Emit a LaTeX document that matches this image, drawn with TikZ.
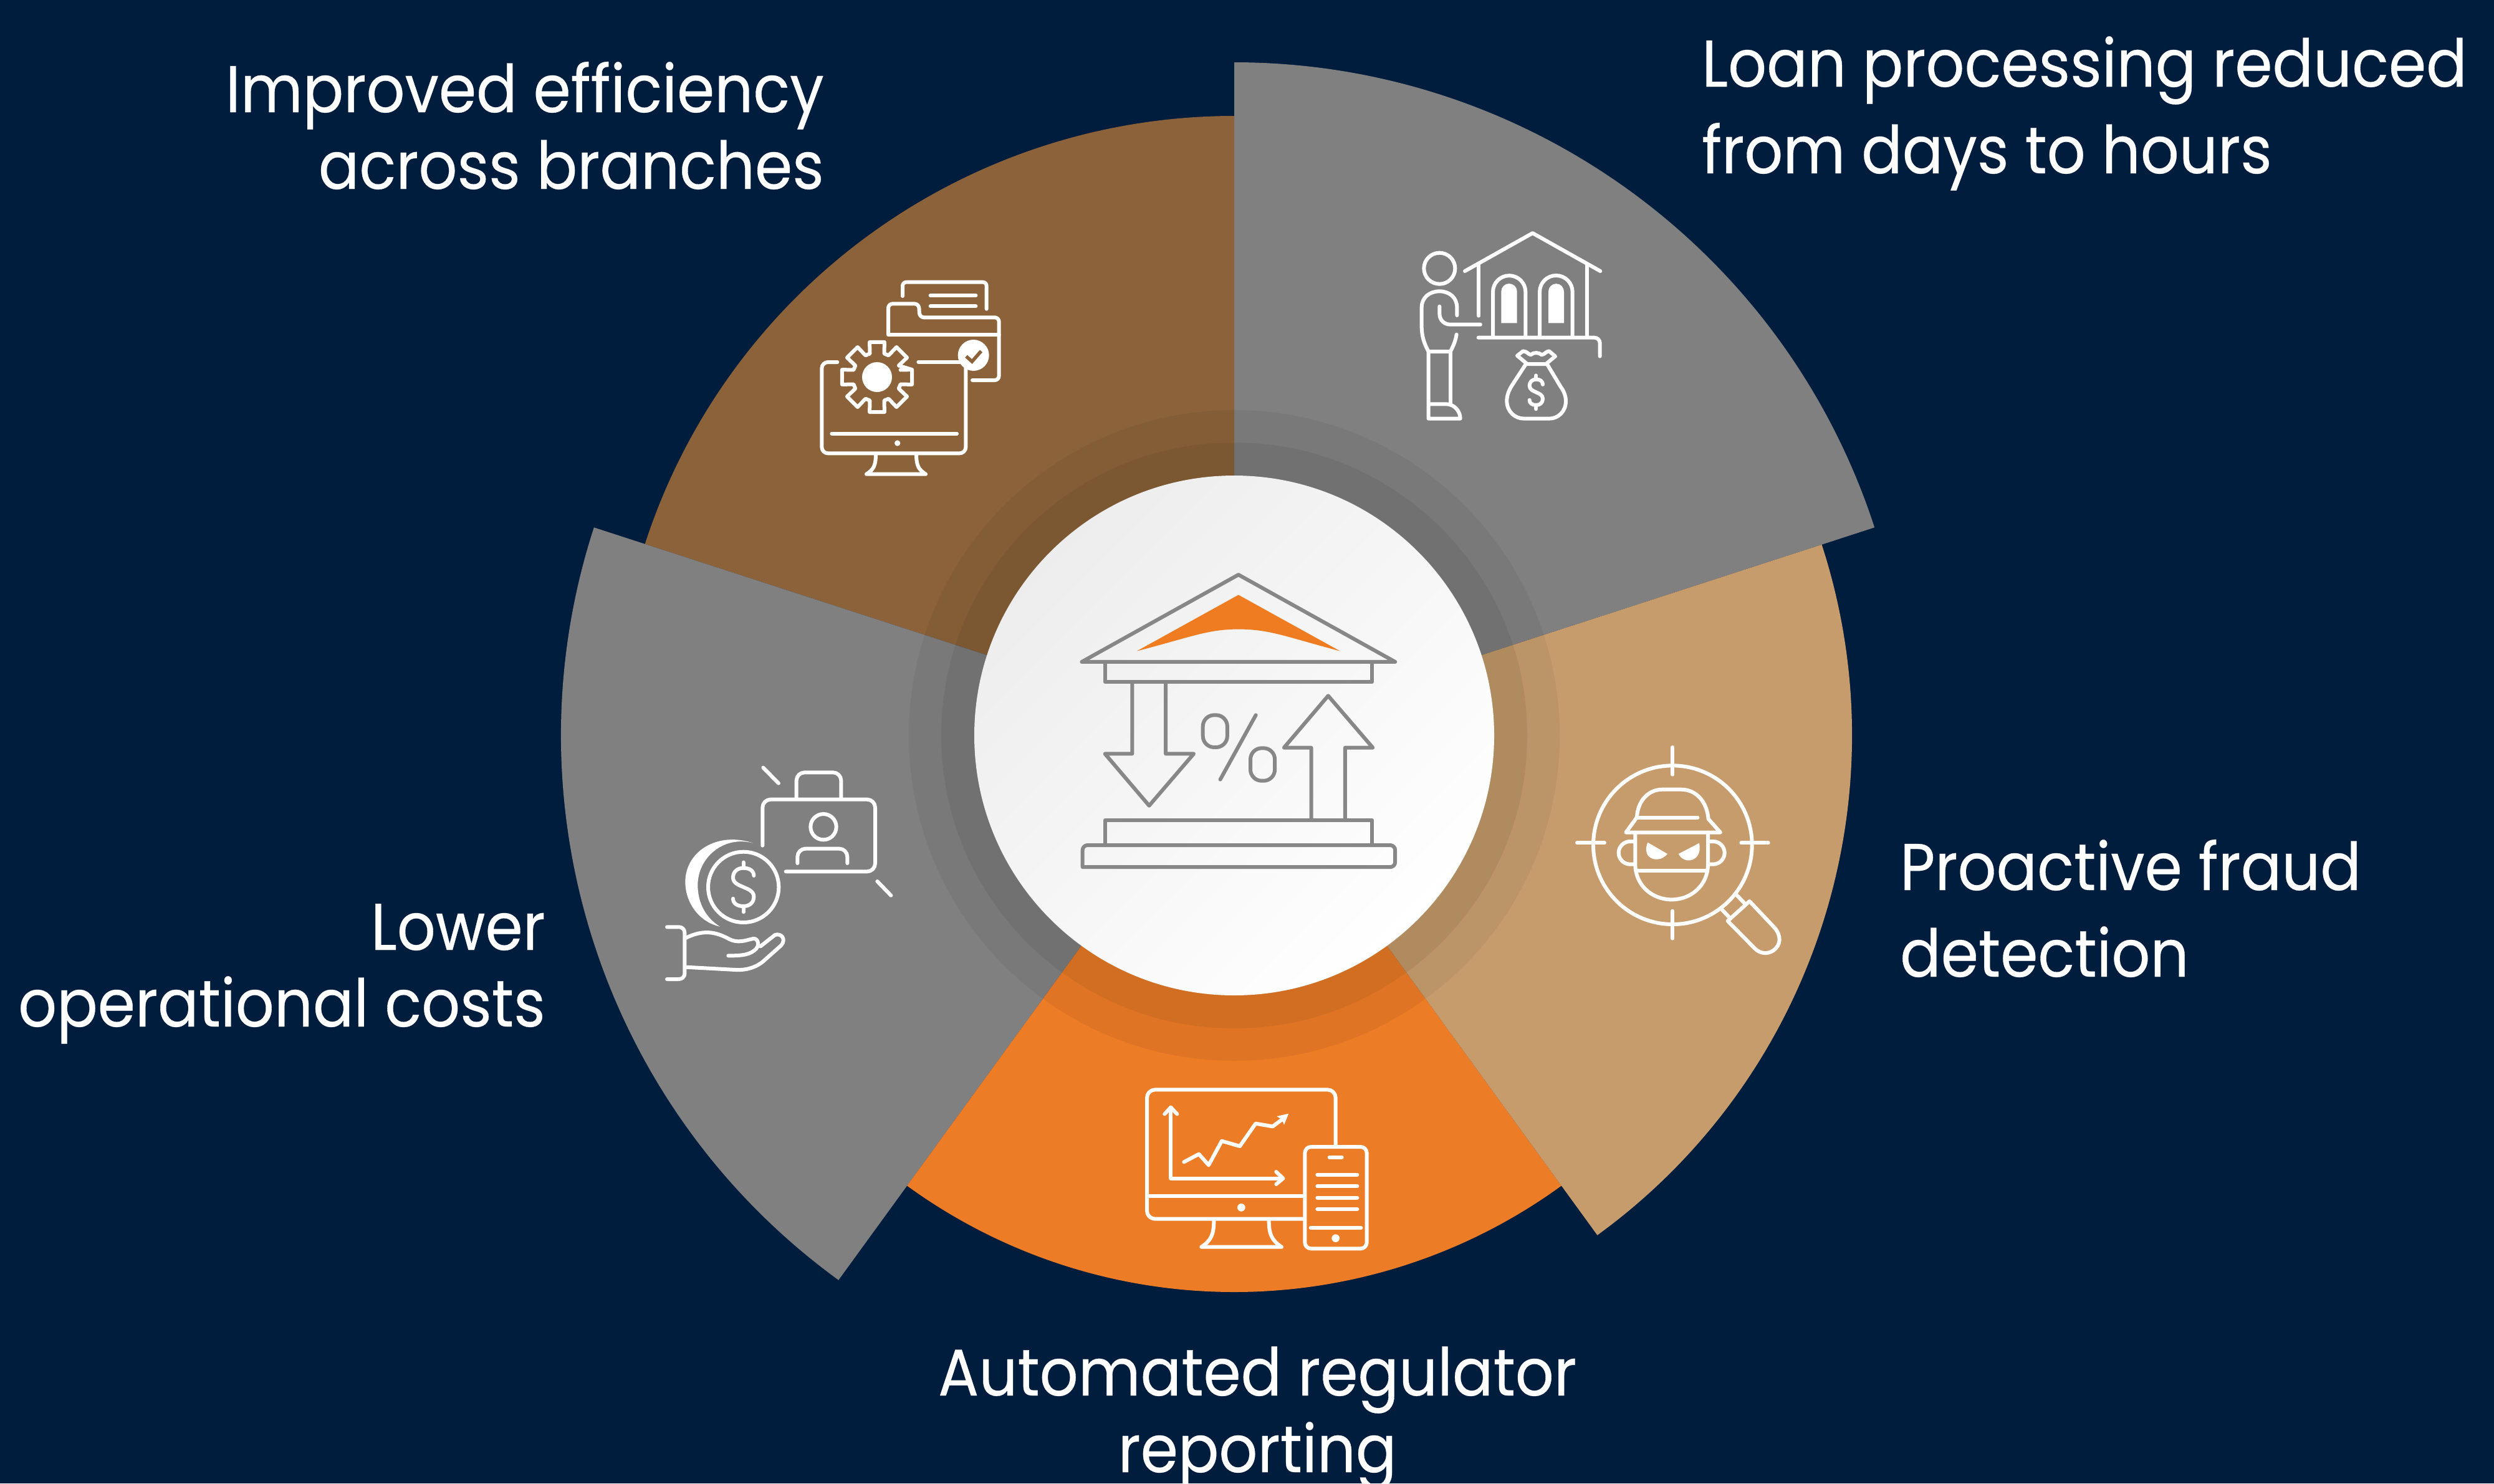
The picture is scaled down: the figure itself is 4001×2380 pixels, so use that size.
\documentclass[tikz,border=0pt]{standalone}
\usepackage{fontspec}
\setmainfont{Poppins}
\newfontfamily\lblfont[FakeStretch=0.915,FakeBold=0.3]{Poppins}
\definecolor{navy}{HTML}{001D3D}
\definecolor{segbrown}{HTML}{8B6239}
\definecolor{seggrey}{HTML}{808080}
\definecolor{segtan}{HTML}{C69C6D}
\definecolor{segorange}{HTML}{EC7C26}
\definecolor{icongrey}{HTML}{878787}
\definecolor{iconorange}{HTML}{F07C22}
\tikzset{
  ico/.style={draw=white,line width=6pt,line cap=round,line join=round},
  icofill/.style={fill=white,draw=none},
  bank/.style={draw=icongrey,line width=6pt,line cap=round,line join=round},
  bigtext/.style={text=white,inner sep=0pt,font=\lblfont\fontsize{106}{139}\selectfont},
  smalltext/.style={text=white,inner sep=0pt,font=\lblfont\fontsize{106}{123}\selectfont},
}
\newcommand{\sectorfill}[4]{\fill[#1] (0,0) -- (#2:#4) arc[start angle=#2,end angle=#3,radius=#4] -- cycle;}
\newcommand{\dollaricon}[4]{%
  \begin{scope}[shift={(#1,#2)},xscale=#3,yscale=#4]
    \draw[ico] (1,-.6) .. controls (1,-.85) and (.6,-1) .. (0,-1) .. controls (-.6,-1) and (-1,-.8) .. (-1,-.5) .. controls (-1,-.2) and (-.4,-.1) .. (0,0) .. controls (.4,.1) and (1,.2) .. (1,.5) .. controls (1,.8) and (.6,1) .. (0,1) .. controls (-.6,1) and (-1,.85) .. (-1,.6);
    \draw[ico] (0,-1) -- (0,-1.3) (0,1) -- (0,1.3);
  \end{scope}}
\begin{document}
\begin{tikzpicture}[x=1pt,y=-1pt]
\clip (0,0) rectangle (4001,2380);
\fill[navy] (0,0) rectangle (4001,2380);
% sectors
\begin{scope}[shift={(1980,1180)},y=1pt]
  \sectorfill{seggrey}{18}{90}{1080}
  \sectorfill{segbrown}{90}{162}{994}
  \sectorfill{seggrey}{162}{234}{1080}
  \sectorfill{segorange}{234}{306}{893}
  \sectorfill{segtan}{306}{378}{991}
\end{scope}
% rings and hub
\fill[black,opacity=.05] (1980,1180) circle (522);
\fill[black,opacity=.06] (1980,1180) circle (470);
\shade[top color=white!93!black,bottom color=white,shading angle=45] (1980,1180) circle (417);

% bank icon
\begin{scope}[shift={(1480,650)},xscale=0.6633,yscale=0.6888]
  \draw[bank] (385,598) -- (764,395) -- (1143,598) -- cycle;
  \fill[iconorange] (518,573) -- (764,442) -- (1010,573) .. controls (880,540) and (840,522) .. (764,522) .. controls (690,522) and (650,540) .. (518,573) -- cycle;
  \draw[bank] (441,600) -- (441,645) -- (1087,645) -- (1087,600);
  \draw[bank] (507,645) -- (507,812) -- (441,812) -- (548,933) -- (656,812) -- (588,812) -- (588,645);
  \draw[bank] (940,965) -- (940,798) -- (874,798) -- (981,677) -- (1089,798) -- (1022,798) -- (1022,965);
  \draw[bank] (441,1025) -- (441,967) -- (1087,967) -- (1087,1025);
  \draw[bank,rounded corners=8pt] (387,1076) -- (387,1025) -- (1143,1025) -- (1143,1076) [sharp corners] -- cycle;
  \draw[bank,rounded corners=18pt] (678,722) rectangle (737,797);
  \draw[bank] (806,722) -- (720,872);
  \draw[bank,rounded corners=18pt] (793,799) rectangle (852,875);
\end{scope}

% icon: loan
\begin{scope}[shift={(2230,360)},scale=1/3]
  \draw[ico] (360,225) -- (686,42) -- (1012,225);
  \draw[ico] (427,195) -- (427,440);
  \draw[ico] (947,195) -- (947,540);
  \draw[ico,rounded corners=9pt] (425,545) -- (1010,545) -- (1010,635);
  \draw[ico] (495,540) -- (495,325) arc[start angle=180,end angle=360,radius=78.5] -- (652,540);
  \draw[ico] (720,540) -- (720,325) arc[start angle=180,end angle=360,radius=79] -- (878,540);
  \fill[white] (535,475) -- (535,323) arc[start angle=180,end angle=360,radius=38] -- (611,475) -- cycle;
  \fill[white] (762,475) -- (762,323) arc[start angle=180,end angle=360,radius=37.5] -- (837,475) -- cycle;
  \draw[ico] (238,212) circle (75);
  \draw[ico] (322,438) -- (322,400) .. controls (322,352) and (285,322) .. (238,322) .. controls (190,322) and (152,352) .. (152,400) -- (152,490) .. controls (152,540) and (165,575) .. (185,612) -- (290,612) .. controls (305,585) and (315,560) .. (320,530);
  \draw[ico] (185,612) -- (185,935) -- (338,935) .. controls (338,900) and (310,865) .. (270,865) -- (185,865);
  \draw[ico] (290,612) -- (290,865);
  \draw[ico] (238,395) -- (238,430) .. controls (238,460) and (260,482) .. (290,482) -- (435,482);
  % bag
  \draw[ico] (660,672) -- (612,632) -- (640,610) .. controls (660,612) and (665,625) .. (677,628) .. controls (690,615) and (715,615) .. (730,628) .. controls (745,625) and (750,612) .. (765,610) -- (795,635) -- (750,672) -- cycle;
  \draw[ico] (652,675) -- (590,770) .. controls (570,800) and (562,825) .. (562,850) .. controls (562,900) and (600,935) .. (645,935) -- (765,935) .. controls (810,935) and (846,900) .. (846,850) .. controls (846,825) and (835,800) .. (820,780) -- (757,675);
  \dollaricon{703}{808}{32}{62}
\end{scope}

% icon: efficiency
\begin{scope}[shift={(1290,430)},scale=1/3]
  \draw[ico,rounded corners=6pt] (474,135) -- (474,68) -- (878,68) -- (878,197);
  \draw[ico] (608,132) -- (826,132) (608,184) -- (826,184);
  \draw[ico,rounded corners=7pt] (405,320) -- (405,172) -- (552,172) -- (556,238) -- (938,238) -- (938,540) -- (810,540);
  \draw[ico] (405,320) -- (938,320);
  \fill[white] (815,420) circle (75);
  \draw[segbrown,line width=5.5pt,line join=miter] (780,425) -- (808,450) -- (852,400);
  \draw[ico,rounded corners=10pt] (160,453) -- (85,453) -- (85,892) -- (778,892) -- (778,470);
  \draw[ico] (550,453) -- (750,453);
  \draw[ico] (133,797) -- (735,797);
  \fill[white] (449,843) circle (14);
  \draw[ico] (345,895) .. controls (345,950) and (335,970) .. (300,992) -- (585,992) .. controls (550,970) and (540,950) .. (540,895);
  \begin{scope}[shift={(351,525)}]
    \fill[white] (0,0) circle (72);
    \draw[ico] (-12:172) \foreach \a in {0,45,...,315} { -- (\a-17:118) -- (\a-12:172) -- (\a+12:172) -- (\a+17:118)} -- cycle;
  \end{scope}
\end{scope}

% icon: fraud
\begin{scope}[shift={(2510,1180)},scale=1/3]
  \draw[ico] (520,527) circle (382);
  \draw[ico] (520,57) -- (520,188) (520,845) -- (520,977) (60,517) -- (192,517) (850,517) -- (980,517);
  \draw[ico] (345,395) -- (640,395);
  \draw[ico] (348,395) .. controls (350,320) and (400,260) .. (470,260) -- (560,260) .. controls (635,260) and (685,320) .. (692,402) -- (750,467) -- (295,467) -- (345,398);
  \draw[ico] (340,467) -- (340,620) .. controls (340,720) and (420,790) .. (515,790) .. controls (610,790) and (690,720) .. (690,620) -- (690,467);
  \draw[ico] (345,652) -- (685,652);
  \draw[ico] (335,510) -- (315,510) .. controls (285,510) and (260,535) .. (260,565) .. controls (260,595) and (285,620) .. (315,620) -- (335,620);
  \draw[ico] (695,510) -- (715,510) .. controls (745,510) and (770,535) .. (770,565) .. controls (770,595) and (745,620) .. (715,620) -- (695,620);
  \fill[white] (400,515) -- (495,570) .. controls (470,600) and (430,605) .. (405,582) .. controls (390,565) and (388,545) .. (400,515) -- cycle;
  \fill[white] (648,518) -- (548,570) .. controls (565,605) and (610,612) .. (635,585) .. controls (652,565) and (652,545) .. (648,518) -- cycle;
  \draw[ico] (757,838) -- (797,880) (828,768) -- (870,812);
  \draw[ico] (785,893) -- (890,798) -- (1010,925) .. controls (1045,965) and (1040,1010) .. (1005,1035) .. controls (975,1055) and (940,1050) .. (915,1025) -- cycle;
\end{scope}

% icon: reporting
\begin{scope}[shift={(1820,1730)},scale=1/3]
  \draw[ico,rounded corners=13pt] (968,325) -- (968,55) -- (60,55) -- (60,677) -- (820,677);
  \draw[ico] (60,566) -- (820,566);
  \fill[white] (514,622) circle (19);
  \draw[ico] (382,685) .. controls (382,750) and (370,780) .. (322,812) -- (708,812) .. controls (660,780) and (647,750) .. (647,685);
  \draw[ico] (175,140) -- (175,482) -- (715,482);
  \draw[ico] (145,172) -- (175,140) -- (205,172);
  \draw[ico] (682,450) -- (715,482) -- (682,510);
  \draw[ico] (238,403) -- (310,365) -- (357,418) -- (420,302) -- (507,327) -- (583,218) -- (665,232) -- (712,197);
  \fill[white] (742,170) -- (685,183) -- (708,198) -- (720,224) -- cycle;
  \draw[ico,fill=segorange,rounded corners=10pt] (820,330) rectangle (1118,820);
  \draw[ico] (938,380) -- (998,380) (880,464) -- (1072,464) (880,520) -- (1072,520) (880,575) -- (1072,575) (880,630) -- (1072,630) (848,720) -- (1090,720);
  \fill[white] (968,770) circle (19);
\end{scope}

% icon: costs
\begin{scope}[shift={(1050,1210)},scale=1/3]
  \draw[ico,rounded corners=13pt] (520,440) -- (520,218) -- (1062,218) -- (1062,565) -- (632,565);
  \draw[ico,rounded corners=13pt] (683,210) -- (683,88) -- (898,88) -- (898,210);
  \draw[ico] (813,350) circle (62);
  \draw[ico,rounded corners=13pt] (688,525) -- (688,455) -- (928,455) -- (928,525);
  \draw[ico] (523,65) -- (597,140) (1072,612) -- (1138,680);
  \draw[ico] (428,640) circle (170);
  \dollaricon{428}{640}{50}{92}
  \fill[white] (475,428) .. controls (300,370) and (148,470) .. (148,615) .. controls (148,720) and (220,810) .. (315,830) .. controls (250,790) and (208,720) .. (208,630) .. controls (208,500) and (330,390) .. (475,428) -- cycle;
  \draw[ico,rounded corners=9pt] (60,832) -- (145,832) -- (145,1083) -- (60,1083);
  \draw[ico] (150,885) .. controls (240,840) and (300,860) .. (350,885) .. controls (400,915) and (440,895) .. (475,888) .. controls (500,885) and (510,925) .. (480,945) .. controls (450,970) and (400,970) .. (355,970);
  \draw[ico] (510,925) -- (580,870) .. controls (610,860) and (635,890) .. (610,920) -- (520,1000) .. controls (480,1030) and (440,1040) .. (390,1038) -- (150,1025);
\end{scope}

% labels
\node[smalltext,anchor=base east,align=right] (efficiency) at (1322,303) {Improved efficiency\\across branches};
\node[bigtext,anchor=base west,align=left] (loan) at (2730,278) {Loan processing reduced\\from days to hours};
\node[bigtext,anchor=base west,align=left] (fraud) at (3048,1567) {Proactive fraud\\detection};
\node[smalltext,anchor=base east,align=right] (costs) at (875,1647) {Lower\\operational costs};
\node[smalltext,anchor=base,align=center] (report) at (2017,2362) {Automated regulator\\reporting};
\end{tikzpicture}
\end{document}
